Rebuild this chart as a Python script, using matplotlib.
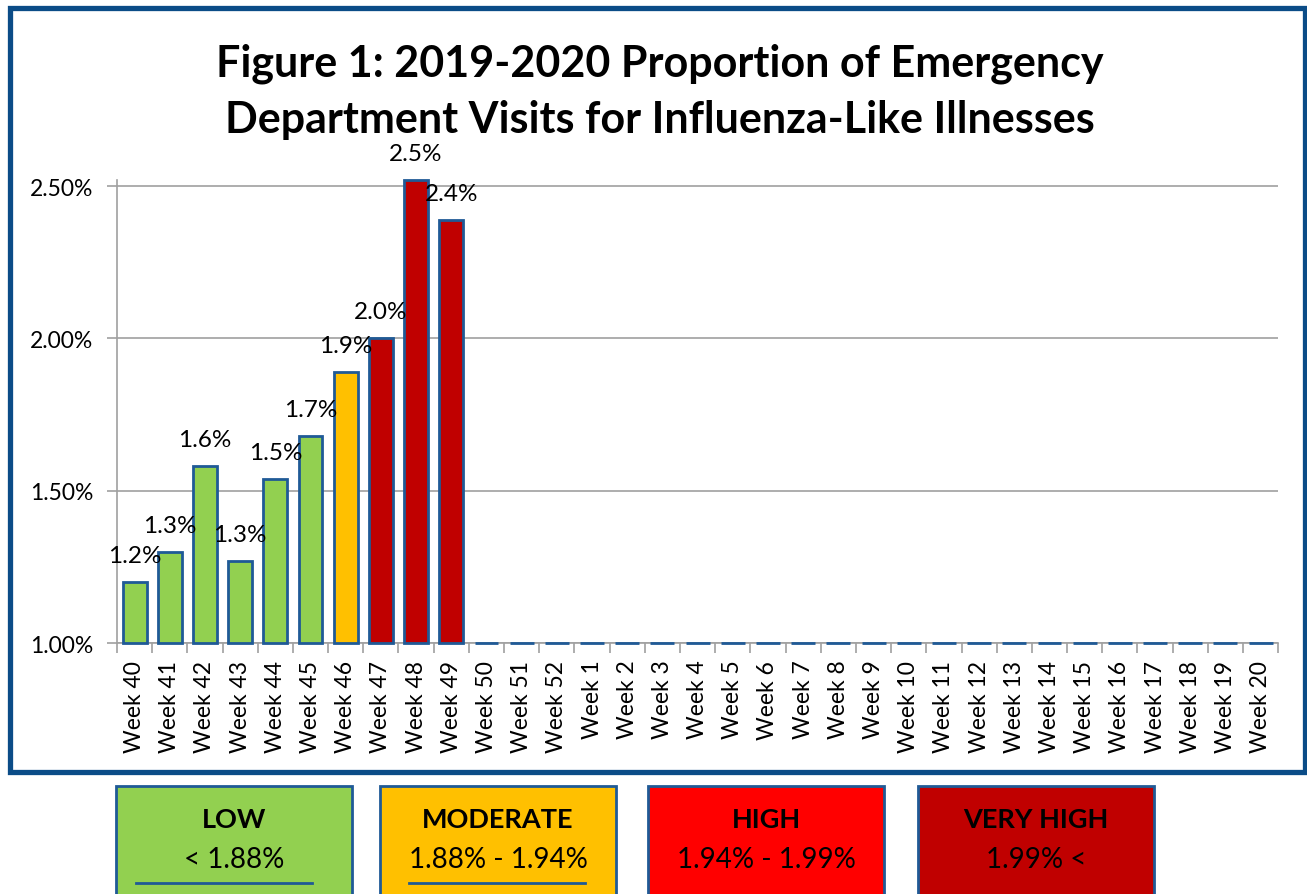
import numpy as np
import matplotlib.pyplot as plt
from matplotlib.patches import Rectangle
from matplotlib.ticker import FuncFormatter

plt.rcParams['font.family'] = ['Lato', 'DejaVu Sans']

# data
weeks = ['Week 40', 'Week 41', 'Week 42', 'Week 43', 'Week 44', 'Week 45', 'Week 46',
         'Week 47', 'Week 48', 'Week 49', 'Week 50', 'Week 51', 'Week 52',
         'Week 1', 'Week 2', 'Week 3', 'Week 4', 'Week 5', 'Week 6', 'Week 7', 'Week 8',
         'Week 9', 'Week 10', 'Week 11', 'Week 12', 'Week 13', 'Week 14', 'Week 15',
         'Week 16', 'Week 17', 'Week 18', 'Week 19', 'Week 20']
ili_pct = [1.20, 1.30, 1.58, 1.27, 1.54, 1.68, 1.89, 2.00, 2.52, 2.39] + [0] * 23
levels = ['LOW', 'MODERATE', 'HIGH', 'VERY HIGH']
level_ranges = ['< 1.88%', '1.88% - 1.94%', '1.94% - 1.99%', '1.99% <']
level_colors = ['#92D050', '#FFC000', '#FF0000', '#C00000']

edge_blue = '#1F5A96'
frame_blue = '#0B4C87'

def bar_color(v):
    if v < 1.88:
        return level_colors[0]
    elif v < 1.94:
        return level_colors[1]
    elif v < 1.99:
        return level_colors[2]
    return level_colors[3]

fig = plt.figure(figsize=(13.07, 8.95), dpi=100)
ax = fig.add_axes([0.0895, 0.2804, 0.8885, 0.5447])

ymin = 1.0
x = np.arange(len(weeks))
heights = [max(v - ymin, 0) for v in ili_pct]
colors = [bar_color(v) for v in ili_pct]
bars = ax.bar(x, heights, bottom=ymin, width=0.68, color=colors,
              edgecolor=edge_blue, linewidth=2, zorder=3)
for b in bars:
    b.set_clip_on(False)

for i, v in enumerate(ili_pct):
    if v > 0:
        ax.annotate('%.1f%%' % v, (i, v), xytext=(0, 19), textcoords='offset points',
                    ha='center', va='center', fontsize=17.5)

ax.set_xlim(-0.5, len(weeks) - 0.5)
ax.set_ylim(ymin, 2.6)
ax.set_yticks([1.0, 1.5, 2.0, 2.5])
ax.yaxis.set_major_formatter(FuncFormatter(lambda v, p: '%.2f%%' % v))
ax.yaxis.grid(True, color='#A0A0A0', linewidth=1.2, zorder=0)

ax.set_xticks(x)
ax.set_xticklabels(weeks, rotation=90, fontsize=16.5)
ax.set_xticks(np.arange(len(weeks) + 1) - 0.5, minor=True)
ax.tick_params(axis='x', which='major', length=0, pad=12)
ax.tick_params(axis='x', which='minor', length=7, color='#A0A0A0', width=1.2)
ax.tick_params(axis='y', length=7, color='#A0A0A0', width=1.2, labelsize=16.5, pad=10)

for s in ['top', 'right']:
    ax.spines[s].set_visible(False)
for s in ['left', 'bottom']:
    ax.spines[s].set_color('#A0A0A0')
    ax.spines[s].set_linewidth(1.2)
ax.spines['left'].set_bounds(1.0, 2.52)

# title
fig.text(0.5046, 0.929, 'Figure 1: 2019-2020 Proportion of Emergency', ha='center', va='center',
         fontsize=31, fontweight='bold')
fig.text(0.5046, 0.866, 'Department Visits for Influenza-Like Illnesses', ha='center', va='center',
         fontsize=31, fontweight='bold')

# chart frame
fig.patches.append(Rectangle((0.00765, 0.1363), 0.9908, 0.8537, transform=fig.transFigure,
                             fill=False, edgecolor=frame_blue, linewidth=3.8))

# severity boxes
box_left = [116, 380, 648, 918]
line_center = [224, 497]
for i in range(4):
    x0 = box_left[i] / 1307
    fig.patches.append(Rectangle((x0, -0.05), 236 / 1307, 0.1707, transform=fig.transFigure,
                                 facecolor=level_colors[i], edgecolor=edge_blue, linewidth=2))
    xc = x0 + 118 / 1307
    fig.text(xc, 0.0838, levels[i], ha='center', va='center', fontsize=19.5, fontweight='bold')
    fig.text(xc, 0.039, level_ranges[i], ha='center', va='center', fontsize=20)
    if i < 2:
        lc = line_center[i] / 1307
        fig.lines.append(plt.Line2D([lc - 88 / 1307, lc + 88 / 1307], [0.0123, 0.0123],
                                    transform=fig.transFigure, color=edge_blue, linewidth=2))

fig.savefig('out.png', dpi=100)
